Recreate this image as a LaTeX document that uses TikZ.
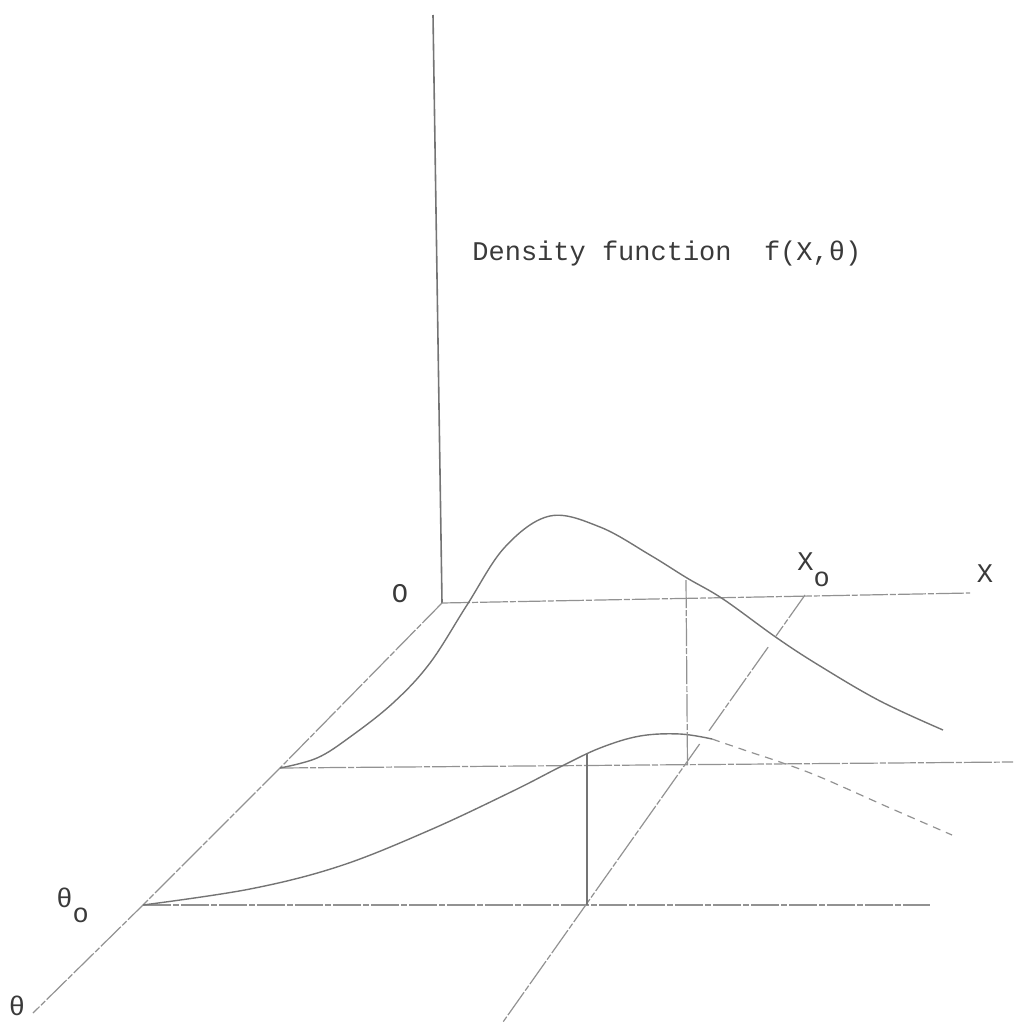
\documentclass[tikz,border=0pt]{standalone}
\usepackage{fontspec}
\setmainfont{Liberation Mono}
\usepackage{xcolor}
\usepackage{tikz}
\usetikzlibrary{calc}
\definecolor{inkx}{HTML}{3A3A3A}
\definecolor{linex}{HTML}{929292}
\definecolor{curvex}{HTML}{747474}
\tikzset{
  axisln/.style={linex,line width=0.6pt,dash pattern=on 14pt off 1pt on 3pt off 1pt},
  curveln/.style={curvex,line width=0.7pt},
  hidden/.style={linex,line width=0.6pt,dash pattern=on 4pt off 3pt},
  lbl/.style={inkx,font=\fontsize{13.5}{15}\selectfont,inner sep=0pt}
}

\begin{document}
\begin{tikzpicture}[x=0.5pt,y=-0.5pt]
\useasboundingbox (0,0) rectangle (1013,1032);
% axes
\coordinate (O) at (442,603);
\coordinate (ztop) at (433,15);
\coordinate (xend) at (970,593);
\coordinate (th1) at (280,768);
\coordinate (th0) at (143,905);
\coordinate (thend) at (33,1013);
\coordinate (r1) at (1013,762);
\coordinate (r0) at (930,905);
\draw[curveln,line width=0.8pt] (O) -- (ztop);
\draw[axisln] (O) -- (xend);
\draw[axisln] (O) -- (th1) -- (th0) -- (thend);
\draw[axisln] (th1) -- (r1);
\draw[axisln] (th0) -- (r0);
% line through X_o, broken where the curves pass
\coordinate (x0) at (805,595);
\coordinate (x0end) at (503,1022);
\draw[axisln] (x0) -- ($(x0)!0.096!(x0end)$);
\draw[axisln] ($(x0)!0.122!(x0end)$) -- ($(x0)!0.318!(x0end)$);
\draw[axisln] ($(x0)!0.349!(x0end)$) -- (x0end);
% density curves
\draw[curveln] plot[smooth,tension=0.6] coordinates {(280,768) (317,758) (350,737) (393,703) (430,663) (467,605) (505,547) (550,516) (600,527) (650,555) (687,578) (723,599) (777,638) (820,666) (880,701) (943,730)};
\draw[curveln] plot[smooth,tension=0.6] coordinates {(143,905) (250,889) (340,866) (430,830) (513,791) (560,767) (600,748) (640,736) (680,734) (712,739)};
\draw[hidden] plot[smooth,tension=0.6] coordinates {(712,739) (750,752) (780,762) (820,777) (890,808) (952,835)};
% ordinates at X_o
\coordinate (v1top) at (686,580);
\coordinate (v2top) at (587,754);
\draw[axisln] (v1top) -- ($(th1)!(v1top)!(r1)$);
\draw[curveln] (v2top) -- (v2top |- th0);
% labels
\node[lbl,anchor=base west] (title) at (472,260) {Density function\ \ f(X,θ)};
\node[lbl] (olab) at (400,594) {O};
\node[lbl] (xlab) at (985,574) {X};
\node[lbl,anchor=base west] (x0lab) at (797,570) {X\raisebox{-8pt}{o}};
\node[lbl,anchor=base west] (th0lab) at (56,907) {θ\raisebox{-7.5pt}{o}};
\node[lbl] (thlab) at (17,1006) {θ};
\end{tikzpicture}
\end{document}
